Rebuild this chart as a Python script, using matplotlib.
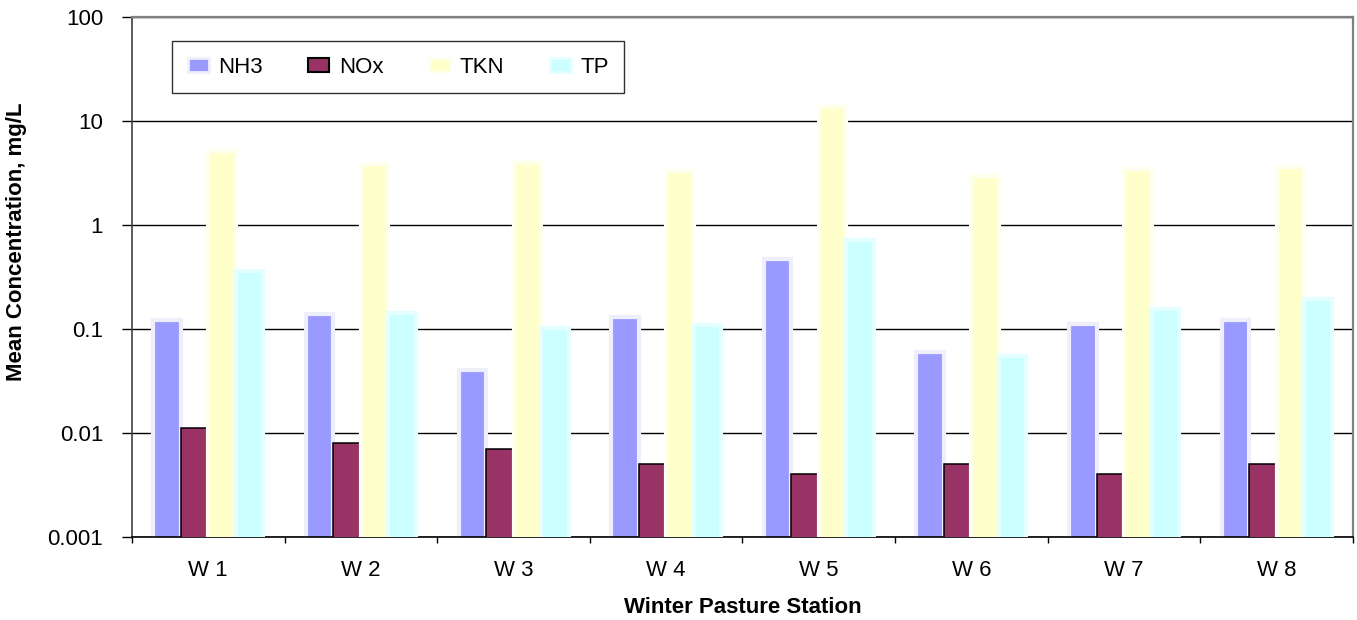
import matplotlib
matplotlib.use("Agg")
import matplotlib.pyplot as plt
import numpy as np
from matplotlib.ticker import FixedLocator, FixedFormatter, NullFormatter
from matplotlib.patches import Patch

plt.rcParams['font.family'] = ['Liberation Sans', 'DejaVu Sans']

stations = ["W 1", "W 2", "W 3", "W 4", "W 5", "W 6", "W 7", "W 8"]
series_names = ["NH3", "NOx", "TKN", "TP"]
nh3 = [0.122, 0.139, 0.040, 0.130, 0.47, 0.060, 0.112, 0.122]
nox = [0.011, 0.008, 0.007, 0.005, 0.004, 0.005, 0.004, 0.005]
tkn = [5.1, 3.8, 4.0, 3.3, 14.0, 2.95, 3.4, 3.6]
tp = [0.355, 0.143, 0.102, 0.109, 0.71, 0.055, 0.156, 0.194]
ytick_vals = [0.001, 0.01, 0.1, 1, 10, 100]
ytick_labels = ["0.001", "0.01", "0.1", "1", "10", "100"]

face_colors = ["#9999FF", "#993366", "#FFFFCC", "#CCFFFF"]
edge_colors = ["#EFEFFC", "#000000", "#FFFFF0", "#E4FFFF"]
edge_widths = [3.0, 1.1, 3.0, 3.0]

fig = plt.figure(figsize=(13.57, 6.2), dpi=100)
ax = fig.add_axes([0.09727, 0.13435, 0.89978, 0.83871])
ax.set_yscale('log')

x = np.arange(len(stations))
slot = 0.18
all_vals = [nh3, nox, tkn, tp]
for k, vals in enumerate(all_vals):
    ax.bar(x + (k - 1.5) * slot, vals, width=slot, bottom=1e-6,
           color=face_colors[k], edgecolor=edge_colors[k],
           linewidth=edge_widths[k], zorder=2 + k)

ax.set_ylim(0.001, 100)
ax.set_xlim(-0.5, len(stations) - 0.5)

ax.yaxis.set_major_locator(FixedLocator(ytick_vals))
ax.yaxis.set_major_formatter(FixedFormatter(ytick_labels))
ax.yaxis.set_minor_locator(FixedLocator([]))
ax.yaxis.set_minor_formatter(NullFormatter())
ax.tick_params(axis='y', which='major', direction='out', length=7.2, width=1,
               color='#000000', pad=13.5, labelsize=16)

ax.xaxis.set_major_locator(FixedLocator(x))
ax.xaxis.set_major_formatter(FixedFormatter(stations))
ax.xaxis.set_minor_locator(FixedLocator(np.arange(len(stations) + 1) - 0.5))
ax.tick_params(axis='x', which='major', length=0, pad=16.5, labelsize=16)
ax.tick_params(axis='x', which='minor', direction='out', length=4.5, width=1,
               color='#000000')

ax.grid(axis='y', which='major', color='#000000', linewidth=1.0)
ax.set_axisbelow(True)

ax.spines['top'].set_color('#808080')
ax.spines['top'].set_linewidth(1.6)
ax.spines['right'].set_color('#808080')
ax.spines['right'].set_linewidth(1.6)
ax.spines['left'].set_color('#404040')
ax.spines['left'].set_linewidth(1.2)
ax.spines['bottom'].set_color('#000000')
ax.spines['bottom'].set_linewidth(1.2)

ax.set_ylabel("Mean Concentration, mg/L", fontsize=16, fontweight='bold',
              va='center', ha='center')
ax.yaxis.set_label_coords(-0.0942, 0.5667)
ax.set_xlabel("Winter Pasture Station", fontsize=16, fontweight='bold',
              va='center', ha='center')
ax.xaxis.set_label_coords(0.5, -0.137)

handles = [Patch(facecolor=face_colors[k], edgecolor=edge_colors[k],
                 linewidth=1.5 if k == 1 else 2.0) for k in range(4)]
leg = ax.legend(handles, series_names, loc='lower left',
                bbox_to_anchor=(0.0328, 0.8524, 0.3702, 0.112),
                mode='expand', ncol=4, fontsize=16, frameon=True,
                fancybox=False, shadow=False, borderpad=0.7,
                handlelength=0.95, handleheight=0.55, handletextpad=0.42,
                borderaxespad=0.0)
leg.get_frame().set_edgecolor('#000000')
leg.get_frame().set_linewidth(1.0)
leg.set_zorder(10)

fig.savefig("out.png", dpi=100)
